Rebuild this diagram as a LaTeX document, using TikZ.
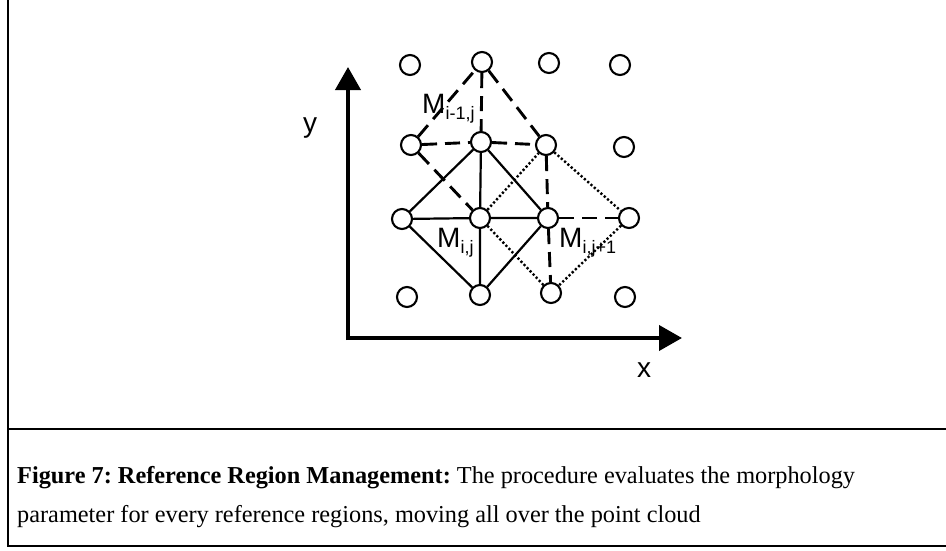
\documentclass[tikz,border=0pt]{standalone}
\usepackage{fontspec}
\setmainfont{Liberation Serif}
\newfontfamily\arialf{Liberation Sans}
\usetikzlibrary{arrows.meta}
\frenchspacing
\newcommand{\subtxt}[1]{\raisebox{-6pt}{\fontsize{18}{18}\selectfont #1}}
\begin{document}
\begin{tikzpicture}[x=1pt,y=-1pt,
  pt/.style={circle,draw,line width=2.1pt,fill=white,minimum size=20pt,inner sep=0pt},
  solidln/.style={line width=2.2pt},
  dashln/.style={line width=2.9pt,dash pattern=on 15pt off 8pt},
  dotln/.style={line width=2.4pt,dash pattern=on 2.2pt off 2.2pt},
  axis/.style={line width=4pt,-{Triangle[length=23pt,width=25pt]}},
  frameln/.style={line width=1.4pt},
  lbl/.style={font=\arialf\fontsize{28}{28}\selectfont,inner sep=0pt,anchor=base west},
  captxt/.style={font=\fontsize{24.3}{26}\selectfont,inner sep=0pt,anchor=base west}]
\useasboundingbox (0,0) rectangle (946,550);
% frame
\coordinate (ftl) at (8,0);
\coordinate (fbl) at (8,546);
\coordinate (fbr) at (946,546);
\coordinate (fsl) at (8,429);
\coordinate (fsr) at (946,429);
\draw[frameln] (ftl) -- (fbl) -- (fbr);
\draw[frameln] (fsl) -- (fsr);
% axes
\coordinate (org) at (348,338);
\coordinate (ytip) at (348,67);
\coordinate (xtip) at (682,338);
\draw[axis] ([yshift=-2pt]org) -- (ytip);
\draw[axis] ([xshift=-2pt]org) -- (xtip);
\node[lbl] (ylab) at (303,132) {y};
\node[lbl] (xlab) at (637,377) {x};
% grid nodes
\node[pt] (a1) at (410,65) {};
\node[pt] (a2) at (482,62) {};
\node[pt] (a3) at (549,63) {};
\node[pt] (a4) at (620,65) {};
\node[pt] (b1) at (411,145) {};
\node[pt] (b2) at (481,142) {};
\node[pt] (b3) at (546,145) {};
\node[pt] (b4) at (624,147) {};
\node[pt] (c1) at (402,219) {};
\node[pt] (c2) at (480,218) {};
\node[pt] (c3) at (548,218) {};
\node[pt] (c4) at (629,218) {};
\node[pt] (d1) at (407,297) {};
\node[pt] (d2) at (480,295) {};
\node[pt] (d3) at (551,293) {};
\node[pt] (d4) at (625,297) {};
% solid M_{i,j}
\draw[solidln] (c1) -- (b2) -- (c3) -- (d2) -- (c1);
\draw[solidln] (c1) -- (c2) -- (c3);
\draw[solidln] (b2) -- (c2) -- (d2);
% dashed M_{i-1,j}
\draw[dashln] (b1) -- (a2);
\draw[dashln] (a2) -- (b3);
\draw[dashln] (b1) -- (c2);
\draw[dashln] (b1) -- (b2);
\draw[dashln] (b2) -- (b3);
\draw[dashln] (a2) -- (b2);
\draw[dashln] (b3) -- (c3);
\draw[dashln] (c3) -- (d3);
\draw[dashln] (c3) -- (c4);
% dotted M_{i,j+1}
\draw[dotln] (c2) -- (b3) -- (c4) -- (d3) -- (c2);
% labels
\node[lbl] (m1) at (422,113) {M\subtxt{i-1,j}};
\node[lbl] (m2) at (437,247) {M\subtxt{i,j}};
\node[lbl] (m3) at (559,247) {M\subtxt{i,j+1}};
% caption
\node[captxt] (cap1) at (17,483) {\textbf{Figure 7: Reference Region Management:} The procedure evaluates the morphology};
\node[captxt] (cap2) at (17,522) {parameter for every reference regions, moving all over the point cloud};
\end{tikzpicture}
\end{document}
